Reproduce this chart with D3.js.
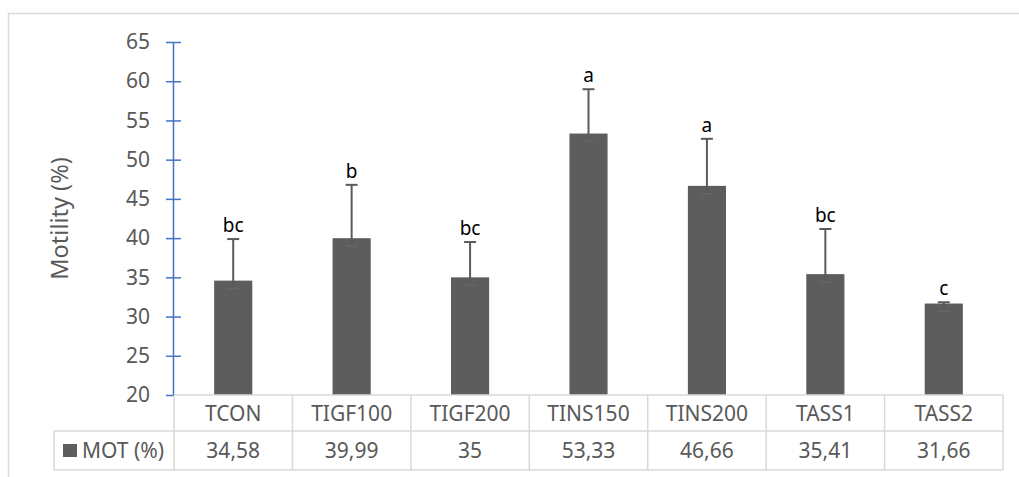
<!DOCTYPE html>
<html>
<head>
<meta charset="utf-8">
<script src="https://cdn.jsdelivr.net/npm/d3@7"></script>
<style>
  html, body { margin: 0; padding: 0; background: #fff; }
  text { font-family: "Noto Sans", "Open Sans", sans-serif; }
</style>
</head>
<body>
<svg id="chart" width="1019" height="477"></svg>
<script>
const categories = ["TCON", "TIGF100", "TIGF200", "TINS150", "TINS200", "TASS1", "TASS2"];
const values = [34.58, 39.99, 35, 53.33, 46.66, 35.41, 31.66];
const valueLabels = ["34,58", "39,99", "35", "53,33", "46,66", "35,41", "31,66"];
const errPlus = [5.3, 6.8, 4.5, 5.65, 6.0, 5.75, 0.16];
const errMinus = [1.0, 1.0, 1.0, 1.0, 1.0, 1.0, 1.0];
const letters = ["bc", "b", "bc", "a", "a", "bc", "c"];
const yTicks = [20, 25, 30, 35, 40, 45, 50, 55, 60, 65];
const seriesName = "MOT (%)";
const yTitle = "Motility (%)";

const svg = d3.select("#chart");
const W = 1019, H = 477;
const plotLeft = 174, plotRight = 1003, plotTop = 42, plotBottom = 395;
const row1Bottom = 431, row2Bottom = 470, legendLeft = 54;
const gridColor = "#d9d9d9", textColor = "#595959", barColor = "#5d5d5d", errColor = "#5a5a5a";

svg.append("rect").attr("width", W).attr("height", H).attr("fill", "#fff");
// chart frame
svg.append("path").attr("d", `M8.5,${H}V13.5H${W}`).attr("fill", "none").attr("stroke", gridColor).attr("stroke-width", 1.5);

const x = d3.scaleBand().domain(categories).range([plotLeft, plotRight]).padding(0);
const y = d3.scaleLinear().domain([20, 65]).range([plotBottom, plotTop]);
const barW = x.bandwidth() * 0.322;

// bars
svg.append("g").selectAll("rect").data(categories).join("rect")
  .attr("x", (d) => x(d) + x.bandwidth() / 2 - barW / 2)
  .attr("y", (d, i) => y(values[i]))
  .attr("width", barW)
  .attr("height", (d, i) => y(20) - y(values[i]))
  .attr("fill", barColor);

// error bars
const eg = svg.append("g").attr("stroke", errColor).attr("stroke-width", 2);
categories.forEach((c, i) => {
  const cx = x(c) + x.bandwidth() / 2;
  const top = y(values[i] + errPlus[i]);
  const bot = y(values[i] - errMinus[i]);
  eg.append("line").attr("x1", cx).attr("x2", cx).attr("y1", top).attr("y2", bot);
  eg.append("line").attr("x1", cx - 6).attr("x2", cx + 6).attr("y1", top).attr("y2", top);
  eg.append("line").attr("x1", cx - 6).attr("x2", cx + 6).attr("y1", bot).attr("y2", bot).attr("stroke", "#666").attr("stroke-width", 1.5);
});

// significance letters
svg.append("g").selectAll("text").data(categories).join("text")
  .attr("x", (d) => x(d) + x.bandwidth() / 2)
  .attr("y", (d, i) => y(values[i] + errPlus[i]) - 7)
  .attr("text-anchor", "middle")
  .attr("font-size", 19)
  .attr("fill", "#000")
  .text((d, i) => letters[i]);

// table grid
const tg = svg.append("g").attr("stroke", gridColor).attr("stroke-width", 1.5).attr("fill", "none");
tg.append("line").attr("x1", plotLeft).attr("x2", plotRight).attr("y1", plotBottom).attr("y2", plotBottom);
tg.append("line").attr("x1", legendLeft).attr("x2", plotRight).attr("y1", row1Bottom).attr("y2", row1Bottom);
tg.append("line").attr("x1", legendLeft).attr("x2", plotRight).attr("y1", row2Bottom).attr("y2", row2Bottom);
tg.append("line").attr("x1", legendLeft).attr("x2", legendLeft).attr("y1", row1Bottom).attr("y2", row2Bottom);
categories.forEach((c) => {
  tg.append("line").attr("x1", x(c) + x.bandwidth()).attr("x2", x(c) + x.bandwidth()).attr("y1", plotBottom).attr("y2", row2Bottom);
});
tg.append("line").attr("x1", plotLeft).attr("x2", plotLeft).attr("y1", plotBottom).attr("y2", row2Bottom);

// table text
svg.append("g").selectAll("text").data(categories).join("text")
  .attr("x", (d) => x(d) + x.bandwidth() / 2)
  .attr("y", (plotBottom + row1Bottom) / 2)
  .attr("dy", "0.36em")
  .attr("text-anchor", "middle")
  .attr("font-size", 21)
  .attr("fill", textColor)
  .text((d) => d);
svg.append("g").selectAll("text").data(categories).join("text")
  .attr("x", (d) => x(d) + x.bandwidth() / 2)
  .attr("y", (row1Bottom + row2Bottom) / 2)
  .attr("dy", "0.36em")
  .attr("text-anchor", "middle")
  .attr("font-size", 21)
  .attr("fill", textColor)
  .text((d, i) => valueLabels[i]);

// legend key
svg.append("rect").attr("x", 63).attr("y", 444).attr("width", 14).attr("height", 13).attr("fill", barColor);
svg.append("text").attr("x", 82).attr("y", (row1Bottom + row2Bottom) / 2).attr("dy", "0.36em")
  .attr("font-size", 21).attr("fill", textColor).text(seriesName);

// y axis
const yAxis = d3.axisLeft(y).tickValues(yTicks).tickSize(7.5).tickSizeOuter(0).tickPadding(16);
const ga = svg.append("g").attr("transform", `translate(${plotLeft - 0.5},0)`).call(yAxis);
ga.select(".domain").attr("stroke", "#4472c4").attr("stroke-width", 1.5).attr("d", `M0,${plotBottom}V${plotTop}`);
ga.selectAll(".tick line").attr("stroke", "#4472c4").attr("stroke-width", 1.5).attr("x1", 7.5);
ga.selectAll(".tick text").attr("font-size", 21).attr("fill", textColor).attr("font-family", "Noto Sans, Open Sans, sans-serif");
ga.select(".tick:first-of-type line").attr("x1", 0);

// y title
svg.append("text")
  .attr("transform", `translate(60,${(plotTop + plotBottom) / 2}) rotate(-90)`)
  .attr("text-anchor", "middle")
  .attr("dy", "0.36em")
  .attr("font-size", 23.5)
  .attr("fill", textColor)
  .text(yTitle);
</script>
</body>
</html>
